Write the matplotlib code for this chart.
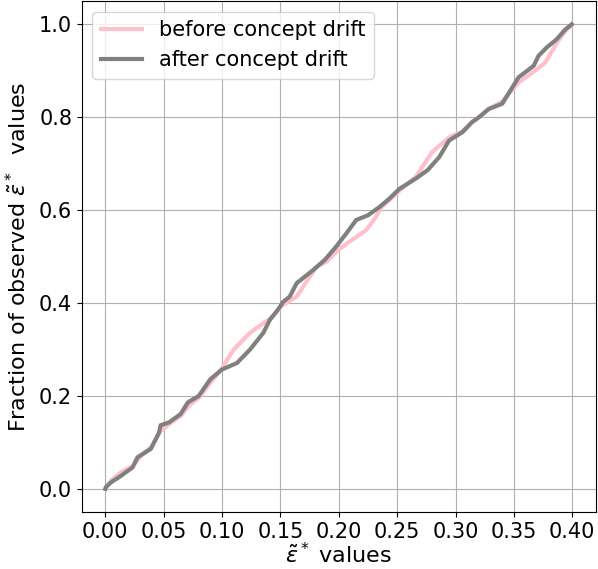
import matplotlib
matplotlib.use("Agg")
import matplotlib.pyplot as plt

# cumulative fraction of observed eps* values, before / after the drift
x_before = [0.0, 0.005, 0.013, 0.024, 0.030, 0.040, 0.047, 0.055, 0.065, 0.072,
            0.080, 0.090, 0.100, 0.110, 0.124, 0.134, 0.143, 0.150, 0.158, 0.164,
            0.172, 0.181, 0.190, 0.198, 0.209, 0.2235, 0.232, 0.236, 0.244, 0.252,
            0.266, 0.280, 0.2945, 0.306, 0.314, 0.320, 0.330, 0.340, 0.354, 0.368,
            0.377, 0.387, 0.394, 0.400]
y_before = [0.0, 0.018, 0.035, 0.050, 0.070, 0.092, 0.123, 0.140, 0.158, 0.180,
            0.196, 0.228, 0.260, 0.300, 0.336, 0.354, 0.370, 0.392, 0.405, 0.414,
            0.445, 0.478, 0.490, 0.511, 0.532, 0.557, 0.586, 0.605, 0.623, 0.642,
            0.672, 0.725, 0.757, 0.770, 0.790, 0.800, 0.820, 0.834, 0.875, 0.900,
            0.918, 0.961, 0.985, 1.0]

x_after = [0.0, 0.0006, 0.0049, 0.0134, 0.0233, 0.0276, 0.039, 0.046, 0.0474, 0.0545,
           0.0645, 0.0707, 0.080, 0.090, 0.100, 0.1128, 0.124, 0.1354, 0.141, 0.148,
           0.1525, 0.158, 0.164, 0.178, 0.188, 0.1966, 0.2065, 0.215, 0.225, 0.235,
           0.2434, 0.252, 0.266, 0.276, 0.286, 0.2945, 0.306, 0.314, 0.320, 0.3285,
           0.340, 0.354, 0.367, 0.371, 0.378, 0.3867, 0.394, 0.3995]
y_after = [0.0, 0.004, 0.014, 0.028, 0.046, 0.068, 0.086, 0.121, 0.137, 0.143,
           0.161, 0.186, 0.200, 0.236, 0.257, 0.271, 0.300, 0.336, 0.364, 0.386,
           0.403, 0.414, 0.443, 0.471, 0.493, 0.518, 0.550, 0.579, 0.589, 0.607,
           0.625, 0.646, 0.668, 0.686, 0.714, 0.750, 0.768, 0.789, 0.800, 0.818,
           0.829, 0.886, 0.911, 0.932, 0.950, 0.968, 0.989, 1.0]

fig, ax = plt.subplots(figsize=(5.98, 5.69), dpi=100)
fig.subplots_adjust(left=0.137, right=0.996, top=0.998, bottom=0.100)

ax.plot(x_before, y_before, color="pink", lw=3, label="before concept drift")
ax.plot(x_after, y_after, color="grey", lw=3, label="after concept drift")

ax.set_xticks([0.0, 0.05, 0.10, 0.15, 0.20, 0.25, 0.30, 0.35, 0.40])
ax.set_xticklabels(["0.00", "0.05", "0.10", "0.15", "0.20", "0.25", "0.30", "0.35", "0.40"])
ax.tick_params(labelsize=15)
ax.grid(True)
ax.set_xlabel(r"$\tilde{\varepsilon}^*$ values", fontsize=16, labelpad=0)
ax.set_ylabel(r"Fraction of observed $\tilde{\varepsilon}^*$  values", fontsize=16, labelpad=6)
ax.legend(loc="upper left", fontsize=15)

fig.savefig("out.png", dpi=100)
